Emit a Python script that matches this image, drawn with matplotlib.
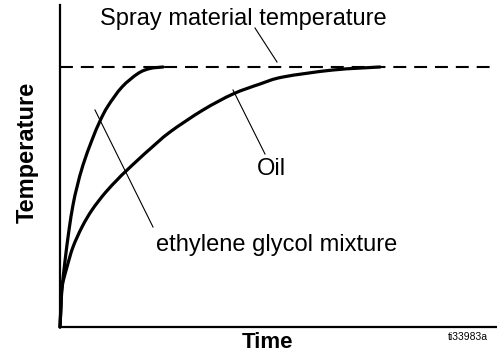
import matplotlib
matplotlib.use("Agg")
import matplotlib.pyplot as plt
from matplotlib.path import Path
from matplotlib.patches import PathPatch

plt.rcParams["font.family"] = ["Liberation Sans", "DejaVu Sans"]

# Schematic heating curves (arbitrary units)
target_temp = 260

glycol_time = [0, 1, 2, 5, 9, 13, 17, 23, 32, 40, 48, 62, 78, 90, 103]
glycol_temp = [0, 22, 38, 66, 97, 122, 140, 162, 187, 206, 221, 240, 253.5, 258.5, 260]

oil_time = [0, 1, 2, 7, 13, 22, 32, 45, 58, 65, 80, 90, 110, 143, 173, 200, 223, 273, 320]
oil_temp = [0, 20, 40, 60, 80, 100, 117, 134, 148, 155, 169, 178, 195, 217, 233, 243, 250, 257, 260]


def smooth_path(xs, ys):
    """Cubic Bezier path passing through every (x, y) point (Catmull-Rom tangents)."""
    pts = list(zip(xs, ys))
    n = len(pts)
    verts = [pts[0]]
    codes = [Path.MOVETO]
    for i in range(n - 1):
        p0 = pts[i - 1] if i > 0 else pts[i]
        p1 = pts[i]
        p2 = pts[i + 1]
        p3 = pts[i + 2] if i + 2 < n else pts[i + 1]
        c1 = (p1[0] + (p2[0] - p0[0]) / 6, p1[1] + (p2[1] - p0[1]) / 6)
        c2 = (p2[0] - (p3[0] - p1[0]) / 6, p2[1] - (p3[1] - p1[1]) / 6)
        verts += [c1, c2, p2]
        codes += [Path.CURVE4] * 3
    return Path(verts, codes)


W, H = 497, 355
fig = plt.figure(figsize=(W / 100, H / 100), dpi=100)
ax = fig.add_axes([60 / W, 28 / H, 437 / W, 322 / H])
ax.set_xlim(0, 437)
ax.set_ylim(0, 322)

for s in ("top", "right"):
    ax.spines[s].set_visible(False)
for s in ("left", "bottom"):
    ax.spines[s].set_linewidth(1.6)
ax.set_xticks([])
ax.set_yticks([])

# target temperature line
ax.axhline(target_temp, color="black", lw=1.5, linestyle=(0, (6.2, 3.8)), clip_on=False)

# heating curves
for xs, ys in ((glycol_time, glycol_temp), (oil_time, oil_temp)):
    ax.add_patch(PathPatch(smooth_path(xs, ys), facecolor="none", edgecolor="black",
                           lw=2.3, capstyle="round", joinstyle="round", clip_on=False))

# leader lines
leader_kw = dict(color="black", lw=0.8, clip_on=False)
ax.plot([195, 217], [299, 265], **leader_kw)
ax.plot([173, 205], [237, 173], **leader_kw)
ax.plot([35, 93], [217, 100], **leader_kw)

label_kw = dict(fontsize=17, va="baseline", ha="left", color="black")
ax.text(40, 302, "Spray material temperature", **label_kw)
ax.text(197, 152, "Oil", **label_kw)
ax.text(96, 76, "ethylene glycol mixture", **label_kw)

fig.text(27 / W, 1 - 152 / H, "Temperature", rotation=90, fontsize=17,
         fontweight="bold", ha="center", va="center")
fig.text(267 / W, 1 - 348 / H, "Time", fontsize=16, fontweight="bold",
         ha="center", va="baseline")
fig.text(448 / W, 1 - 340 / H, "ti33983a", fontsize=7.5, ha="left", va="baseline")

fig.savefig("out.png", dpi=100)
